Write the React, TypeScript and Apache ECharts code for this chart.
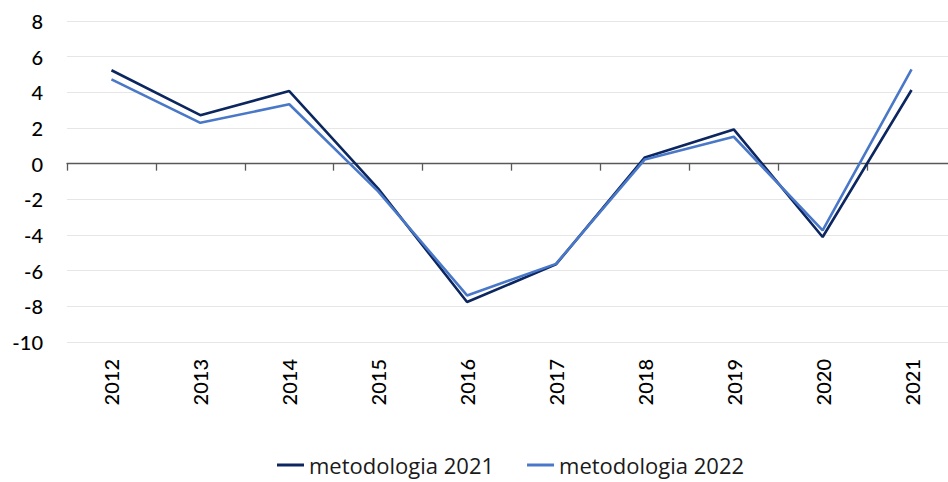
import React, { useEffect, useRef } from "react";
import * as echarts from "echarts";

const years = ["2012", "2013", "2014", "2015", "2016", "2017", "2018", "2019", "2020", "2021"];
const metodologia2021 = [5.24, 2.72, 4.07, -1.4, -7.76, -5.65, 0.35, 1.92, -4.11, 4.13];
const metodologia2022 = [4.73, 2.29, 3.33, -1.55, -7.39, -5.62, 0.24, 1.51, -3.74, 5.29];
const seriesNames = ["metodologia 2021", "metodologia 2022"];
const colors = ["#0c2660", "#4a78c8"];

export default function App() {
  const ref = useRef<HTMLDivElement>(null);
  useEffect(() => {
    if (!ref.current) return;
    const chart = echarts.init(ref.current, undefined, { renderer: "svg" });
    chart.setOption({
      animation: false,
      backgroundColor: "#ffffff",
      grid: {
        left: 67,
        top: 21,
        right: -8,
        bottom: 140,
        containLabel: false,
        outerBoundsMode: "none",
      },
      legend: {
        top: 449,
        left: 272,
        itemGap: 33,
        itemWidth: 27,
        itemHeight: 3,
        icon: "rect",
        textStyle: { fontFamily: "Open Sans", fontSize: 22, color: "#1a1a1a" },
        data: seriesNames,
      },
      xAxis: [
        {
          type: "category",
          data: years,
          position: "top",
          boundaryGap: true,
          axisLine: { show: true, onZero: true, lineStyle: { color: "#595959", width: 1.3 } },
          axisTick: { show: true, inside: true, length: 7, lineStyle: { color: "#595959", width: 1.3 } },
          axisLabel: { show: false },
          splitLine: { show: false },
        },
        {
          type: "category",
          data: years,
          position: "bottom",
          boundaryGap: true,
          axisLine: { show: false, onZero: false },
          axisTick: { show: false },
          axisLabel: {
            show: true,
            rotate: 90,
            margin: 17,
            fontFamily: "Lato",
            fontWeight: 500,
            fontSize: 20,
            color: "#000000",
          },
          splitLine: { show: false },
        },
      ],
      yAxis: {
        type: "value",
        min: -10,
        max: 8,
        interval: 2,
        axisLine: { show: false },
        axisTick: { show: false },
        axisLabel: { margin: 24, fontFamily: "Lato", fontWeight: 500, fontSize: 20, color: "#000000" },
        splitLine: { show: true, lineStyle: { color: "#e6e6e6", width: 1 } },
      },
      series: [
        {
          name: seriesNames[0],
          type: "line",
          xAxisIndex: 0,
          data: metodologia2021,
          symbol: "none",
          lineStyle: { color: colors[0], width: 2.6 },
          itemStyle: { color: colors[0] },
        },
        {
          name: seriesNames[1],
          type: "line",
          xAxisIndex: 0,
          data: metodologia2022,
          symbol: "none",
          lineStyle: { color: colors[1], width: 2.6 },
          itemStyle: { color: colors[1] },
        },
      ],
    });
    return () => chart.dispose();
  }, []);
  return (
    <div
      ref={ref}
      style={{ position: "fixed", left: 0, top: 0, width: 948, height: 482 }}
    />
  );
}
